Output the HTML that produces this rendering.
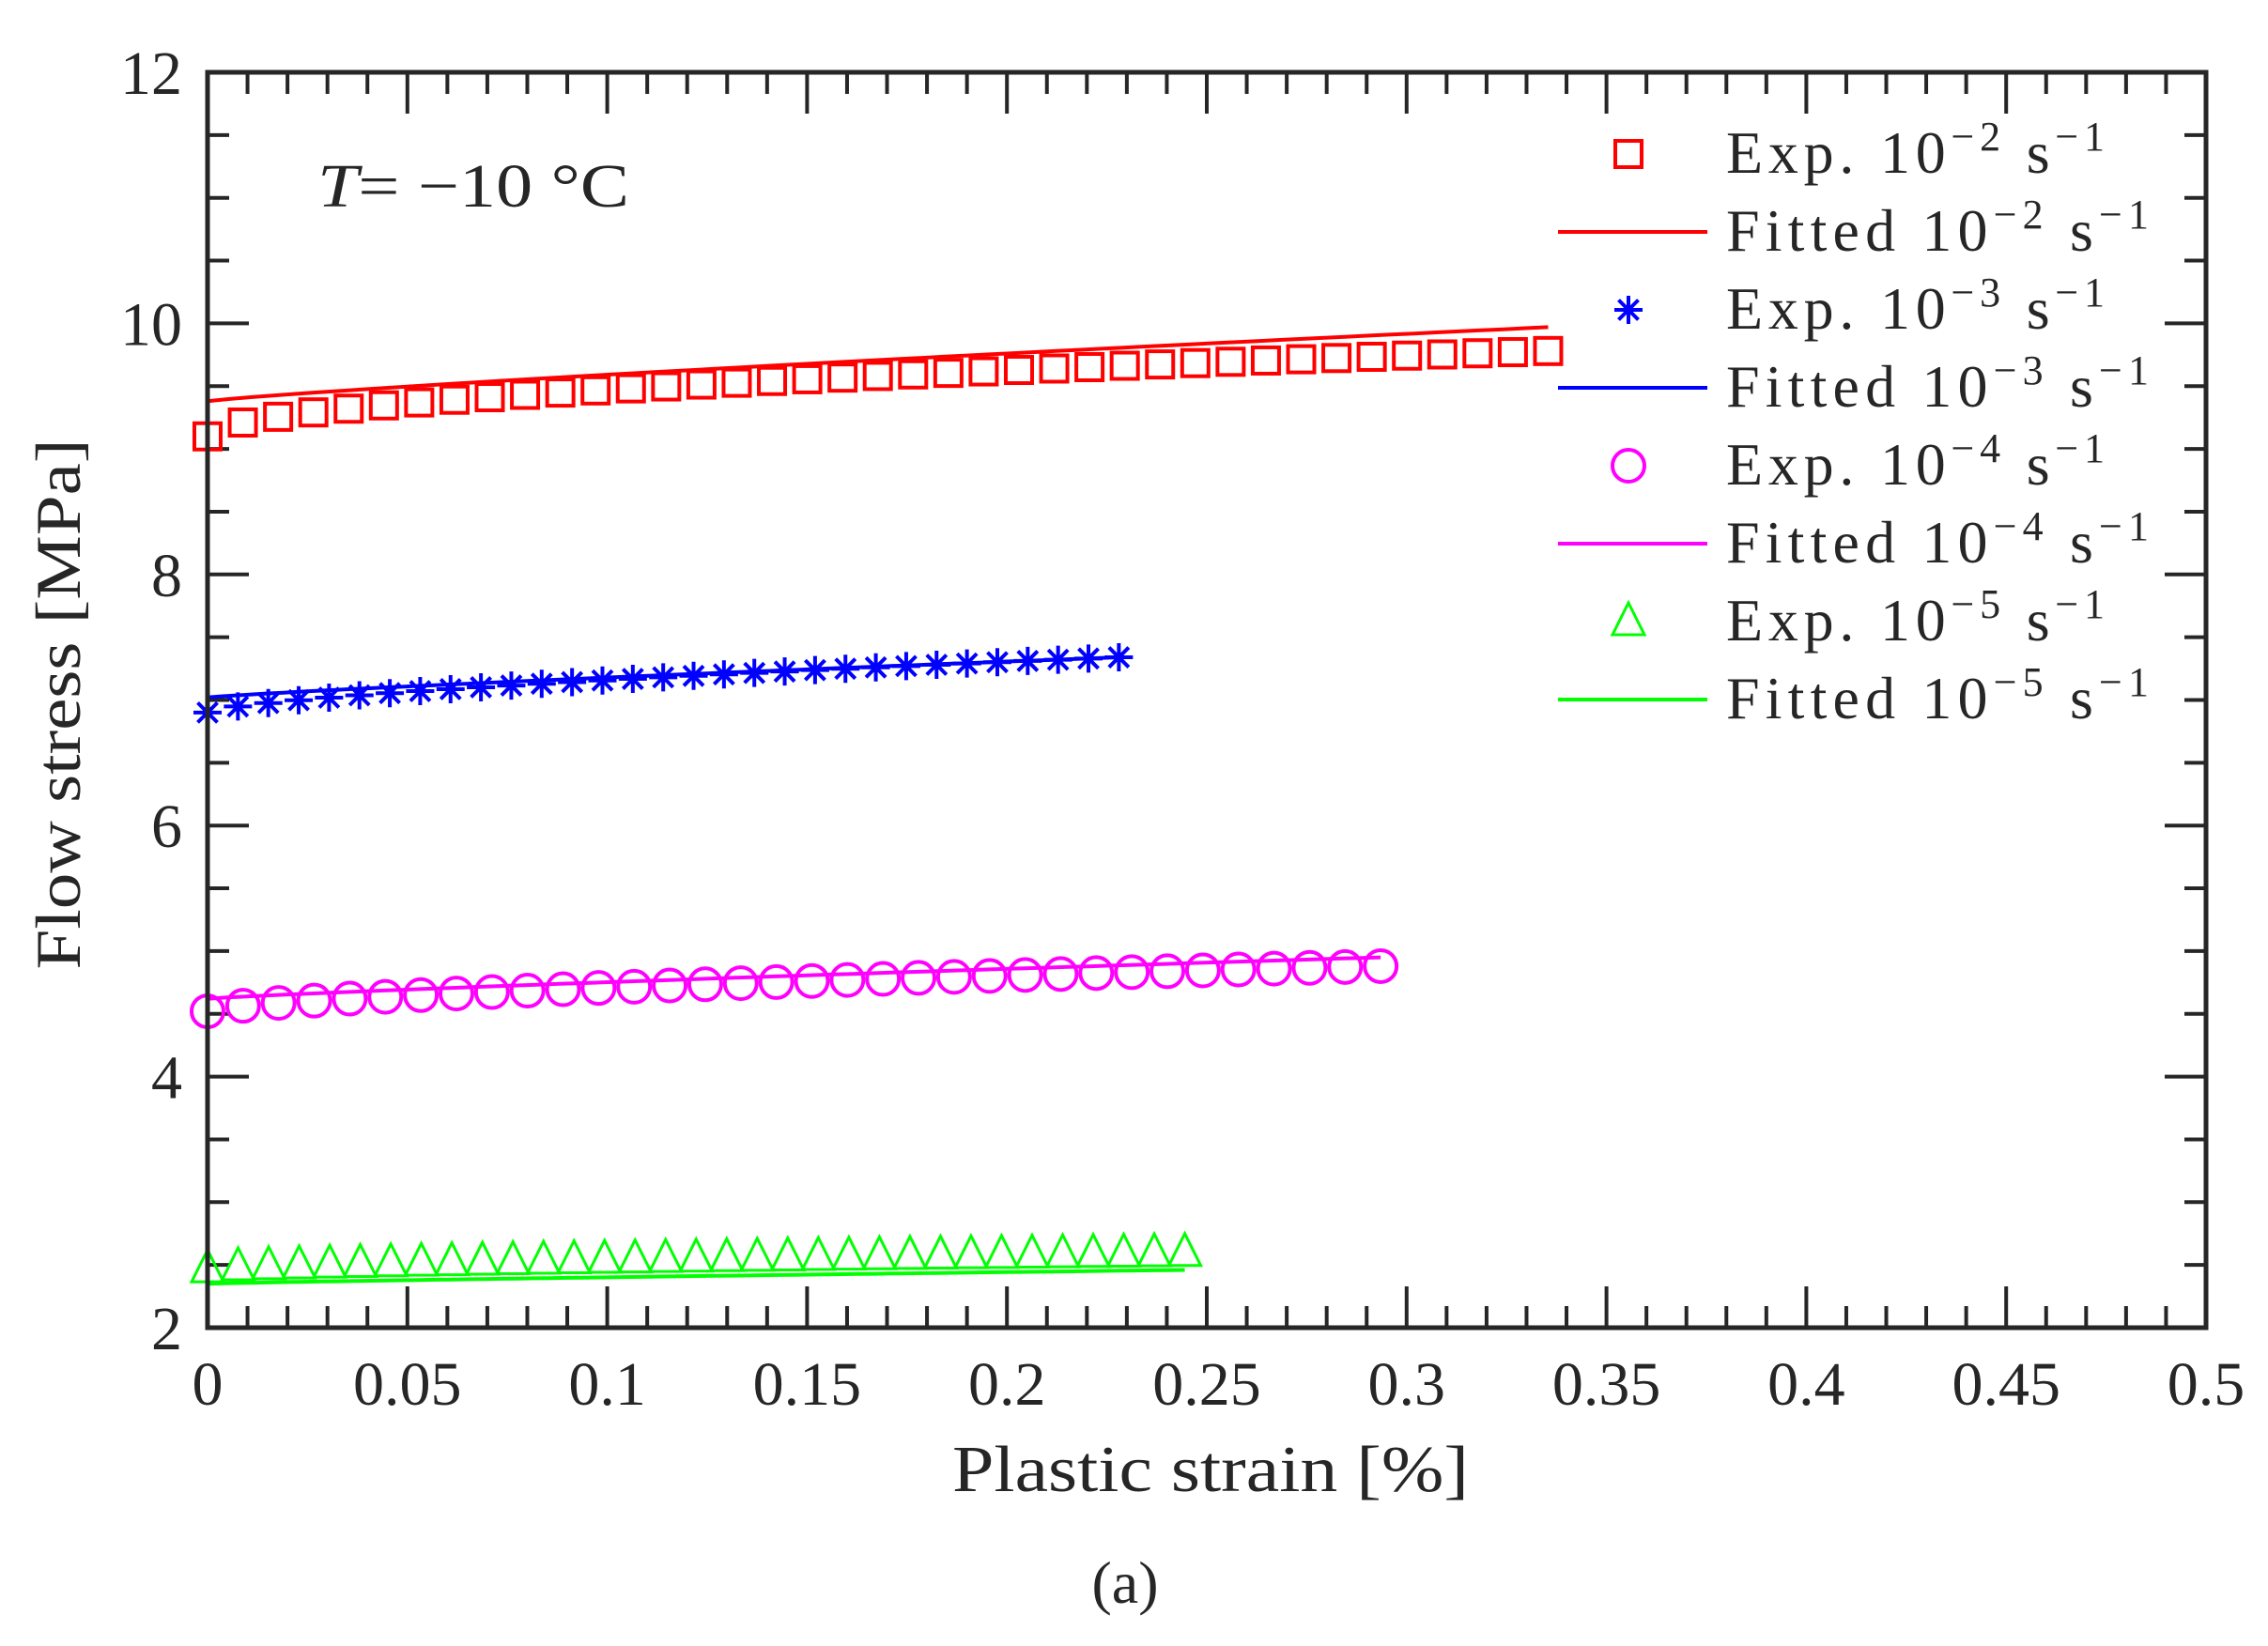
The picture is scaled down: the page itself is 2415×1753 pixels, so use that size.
<!DOCTYPE html>
<html><head><meta charset="utf-8"><style>
html,body{margin:0;padding:0;background:#fff;}
svg{display:block;}
text{font-family:"Liberation Serif",serif;fill:#262626;}
</style></head><body>
<svg id="s" width="2415" height="1753" viewBox="0 0 2415 1753" xmlns="http://www.w3.org/2000/svg">
<rect width="2415" height="1753" fill="#fff"/>
<g id="ticks" stroke="#262626" stroke-width="4"></g>
<g id="data"></g>
<rect x="221" y="77" width="2128" height="1337" fill="none" stroke="#262626" stroke-width="5"/>
<g id="lbl" font-size="66"></g>
<text x="62" y="750" font-size="68" text-anchor="middle" transform="rotate(-90 62 750)" dominant-baseline="central" textLength="565" lengthAdjust="spacingAndGlyphs">Flow stress [MPa]</text>
<text x="1289" y="1588" font-size="70" text-anchor="middle" textLength="550" lengthAdjust="spacingAndGlyphs">Plastic strain [%]</text>
<text x="1198" y="1707" font-size="64" text-anchor="middle" fill="#000">(a)</text>
<text x="338" y="220" font-size="66" fill="#000" textLength="332" lengthAdjust="spacingAndGlyphs"><tspan font-style="italic">T</tspan>= −10 °C</text>
<g id="leg"></g>
</svg>
<script>
const NS="http://www.w3.org/2000/svg";
const L=221,R=2349,T=77,B=1414;
const X=v=>L+v*(R-L)/0.5, Y=v=>B-(v-2)*(B-T)/10;
function el(p,tag,a,txt){const e=document.createElementNS(NS,tag);for(const k in a)e.setAttribute(k,a[k]);if(txt!=null)e.textContent=txt;document.getElementById(p).appendChild(e);return e;}
for(let i=0;i<=50;i++){const x=X(i*0.01);const len=i%5==0?44:23;
 el('ticks','line',{x1:x,y1:B,x2:x,y2:B-len});el('ticks','line',{x1:x,y1:T,x2:x,y2:T+len});}
for(let i=0;i<=20;i++){const y=Y(2+i*0.5);const len=i%4==0?44:23;
 el('ticks','line',{x1:L,y1:y,x2:L+len,y2:y});el('ticks','line',{x1:R,y1:y,x2:R-len,y2:y});}
const xl=['0','0.05','0.1','0.15','0.2','0.25','0.3','0.35','0.4','0.45','0.5'];
xl.forEach((t,i)=>el('lbl','text',{x:X(i*0.05),y:1496,'text-anchor':'middle'},t));
for(let v=2;v<=12;v+=2)el('lbl','text',{x:194,y:Y(v)+23,'text-anchor':'end'},String(v));
const S=[
 {c:'#ff0000',m:'sq',n:39,xe:0.3354,y0:9.1,y1:9.78,p:0.5,f0:9.38,f1:9.97,fe:0.3354},
 {c:'#0000ff',m:'ast',n:31,xe:0.228,y0:6.9,y1:7.34,p:0.65,f0:7.02,f1:7.34,fe:0.228},
 {c:'#ff00ff',m:'ci',n:34,xe:0.2935,y0:4.52,y1:4.88,p:0.6,f0:4.62,f1:4.95,fe:0.2935},
 {c:'#00ff00',m:'tri',n:33,xe:0.2445,y0:2.47,y1:2.6,p:0.6,f0:2.35,f1:2.46,fe:0.2445}];
function marker(g,m,cx,cy,c){
 if(m=='sq')el(g,'rect',{x:cx-14,y:cy-14,width:28,height:28,fill:'none',stroke:c,'stroke-width':4});
 else if(m=='ci')el(g,'ellipse',{cx:cx,cy:cy,rx:17,ry:17,fill:'none',stroke:c,'stroke-width':4});
 else if(m=='tri')el(g,'polygon',{points:`${cx},${cy-20} ${cx-17},${cy+14} ${cx+17},${cy+14}`,fill:'none',stroke:c,'stroke-width':3});
 else{const r=15;el(g,'path',{d:`M${cx-r},${cy}H${cx+r}M${cx},${cy-r}V${cy+r}M${cx-r*.7},${cy-r*.7}L${cx+r*.7},${cy+r*.7}M${cx-r*.7},${cy+r*.7}L${cx+r*.7},${cy-r*.7}`,stroke:c,'stroke-width':4,fill:'none'});}
}
S.forEach(s=>{
 let d='';for(let i=0;i<=60;i++){const x=s.fe*i/60;const y=s.f0+(s.f1-s.f0)*Math.pow(i/60,0.85);d+=(i?'L':'M')+X(x).toFixed(1)+','+Y(y).toFixed(1);}
 el('data','path',{d:d,stroke:s.c,'stroke-width':4,fill:'none'});
 for(let i=0;i<s.n;i++){const t=i/(s.n-1);const x=s.xe*t;const y=s.y0+(s.y1-s.y0)*Math.pow(t,s.p);marker('data',s.m,X(x),Y(y),s.c);}
});
const ex=['−2','−3','−4','−5'];
S.forEach((s,k)=>{
 const yc1=164+k*166, yc2=247+k*166;
 marker('leg',s.m,1734,yc1,s.c);
 el('leg','line',{x1:1659,y1:yc2,x2:1818,y2:yc2,stroke:s.c,'stroke-width':4});
 const t1=el('leg','text',{x:1838,y:yc1+20,'font-size':64,fill:'#000',textLength:403,lengthAdjust:'spacing'});
 t1.innerHTML=`Exp.  10<tspan dy="-24" font-size="44">${ex[k]}</tspan><tspan dy="24"> s</tspan><tspan dy="-24" font-size="44">−1</tspan>`;
 const t2=el('leg','text',{x:1838,y:yc2+20,'font-size':64,fill:'#000',textLength:450,lengthAdjust:'spacing'});
 t2.innerHTML=`Fitted  10<tspan dy="-24" font-size="44">${ex[k]}</tspan><tspan dy="24"> s</tspan><tspan dy="-24" font-size="44">−1</tspan>`;
});
</script>
</body></html>
